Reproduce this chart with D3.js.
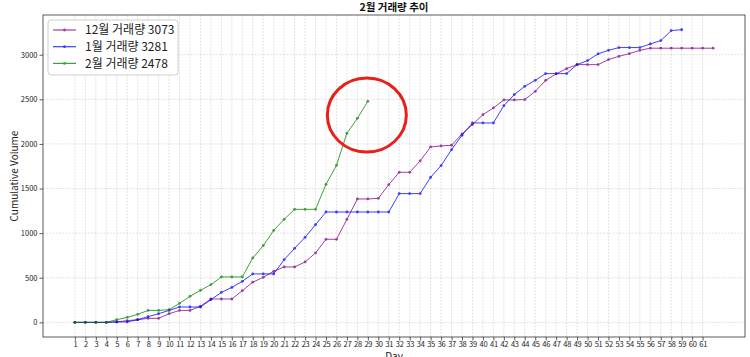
<!DOCTYPE html>
<html>
<head>
<meta charset="utf-8">
<script src="https://cdn.jsdelivr.net/npm/d3@7"></script>
<style>
  body { margin: 0; background: #fff; }
  text { font-family: "Noto Sans CJK KR", "Noto Sans", sans-serif; }
</style>
</head>
<body>
<div id="chart"></div>
<script>
// Cumulative volume per day (index 0 = day 1)
var decVolume = [0, 0, 0, 0, 5, 19, 30, 45, 45, 97, 134, 134, 180, 262, 262, 262, 355, 450, 505, 572,
  621, 621, 677, 778, 931, 931, 1155, 1383, 1383, 1390, 1544, 1682, 1682, 1810, 1966, 1978, 1985, 2112, 2216, 2328,
  2403, 2493, 2493, 2497, 2590, 2713, 2785, 2844, 2889, 2889, 2889, 2945, 2982, 3012, 3049, 3073, 3073, 3073, 3073, 3073,
  3073, 3073];
var janVolume = [0, 0, 0, 0, 5, 5, 30, 64, 97, 134, 172, 172, 172, 254, 336, 392, 460, 543, 543, 543,
  703, 830, 953, 1095, 1237, 1237, 1237, 1237, 1237, 1237, 1237, 1443, 1443, 1443, 1626, 1757, 1936, 2097, 2235, 2235,
  2235, 2429, 2553, 2646, 2713, 2788, 2788, 2788, 2889, 2934, 3009, 3049, 3080, 3080, 3080, 3121, 3158, 3270, 3281];
var febVolume = [0, 0, 0, 0, 30, 56, 90, 134, 134, 142, 213, 292, 359, 423, 509, 509, 509, 722, 860, 1031,
  1155, 1267, 1267, 1267, 1547, 1760, 2119, 2287, 2478];

var seriesNames = ["12월 거래량", "1월 거래량", "2월 거래량"];
var seriesColors = ["purple", "blue", "green"];
var xTicks = d3.range(1, 62);
var yTicks = [0, 500, 1000, 1500, 2000, 2500, 3000];
// red annotation circle (day, volume)
var highlight = [29, 2323];

var svgWidth = 750;
var svgHeight = 357;
var margin = { top: 15, right: 5, bottom: 20, left: 43 };
var width = svgWidth - margin.left - margin.right;
var height = svgHeight - margin.top - margin.bottom;

var svg = d3.select("#chart")
  .append("svg")
  .attr("width", svgWidth)
  .attr("height", svgHeight);

var chartGroup = svg.append("g")
  .attr("transform", `translate(${margin.left}, ${margin.top})`);

var allSeries = [decVolume, janVolume, febVolume];
var maxDay = d3.max(allSeries, function(s) { return s.length; });
var maxVol = d3.max(allSeries, function(s) { return d3.max(s); });
var xPad = (maxDay - 1) * 0.05;
var yPad = maxVol * 0.05;

var xScale = d3.scaleLinear()
  .domain([1 - xPad, maxDay + xPad])
  .range([0, width]);
var yScale = d3.scaleLinear()
  .domain([-yPad, maxVol + yPad])
  .range([height, 0]);

// Grid
chartGroup.append("g")
  .selectAll("line")
  .data(xTicks)
  .enter()
  .append("line")
  .attr("x1", function(d) { return xScale(d); })
  .attr("x2", function(d) { return xScale(d); })
  .attr("y1", 0)
  .attr("y2", height)
  .attr("stroke", "#b0b0b0")
  .attr("stroke-opacity", 0.5)
  .attr("stroke-width", 0.7)
  .attr("stroke-dasharray", "2,1.2");
chartGroup.append("g")
  .selectAll("line")
  .data(yTicks)
  .enter()
  .append("line")
  .attr("x1", 0)
  .attr("x2", width)
  .attr("y1", function(d) { return yScale(d); })
  .attr("y2", function(d) { return yScale(d); })
  .attr("stroke", "#b0b0b0")
  .attr("stroke-opacity", 0.5)
  .attr("stroke-width", 0.7)
  .attr("stroke-dasharray", "2,1.2");

// Axes
var bottomAxis = d3.axisBottom(xScale).tickValues(xTicks).tickSizeInner(3.5).tickSizeOuter(0).tickPadding(1.5);
var leftAxis = d3.axisLeft(yScale).tickValues(yTicks).tickFormat(d3.format("d"))
  .tickSizeInner(3.5).tickSizeOuter(0).tickPadding(2);

var xAxisG = chartGroup.append("g")
  .attr("transform", `translate(0, ${height})`)
  .call(bottomAxis);
var yAxisG = chartGroup.append("g")
  .call(leftAxis);
[xAxisG, yAxisG].forEach(function(g) {
  g.select(".domain").remove();
  g.selectAll(".tick line").attr("stroke", "#333").attr("stroke-width", 0.8);
  g.selectAll(".tick text")
    .attr("fill", "#222")
    .style("font-size", "7.5px")
    .style("font-family", "'Noto Sans CJK KR', sans-serif");
});
xAxisG.selectAll(".tick text").style("letter-spacing", "-0.3px");

// Frame
chartGroup.append("rect")
  .attr("width", width)
  .attr("height", height)
  .attr("fill", "none")
  .attr("stroke", "#333")
  .attr("stroke-width", 0.8);

// Lines
var line = d3.line()
  .x(function(d, i) { return xScale(i + 1); })
  .y(function(d) { return yScale(d); });

allSeries.forEach(function(values, k) {
  var g = chartGroup.append("g")
    .attr("opacity", 0.75);
  g.append("path")
    .datum(values)
    .attr("d", line)
    .attr("fill", "none")
    .attr("stroke", seriesColors[k])
    .attr("stroke-width", 1);
  g.selectAll("circle")
    .data(values)
    .enter()
    .append("circle")
    .attr("cx", function(d, i) { return xScale(i + 1); })
    .attr("cy", function(d) { return yScale(d); })
    .attr("r", 1.4)
    .attr("fill", seriesColors[k]);
});

// Red circle annotation
chartGroup.append("ellipse")
  .attr("cx", xScale(highlight[0]) - 1)
  .attr("cy", yScale(highlight[1]))
  .attr("rx", 39.5)
  .attr("ry", 37)
  .attr("fill", "none")
  .attr("stroke", "#e8201c")
  .attr("stroke-width", 3);

// Legend
var legend = chartGroup.append("g")
  .attr("transform", "translate(5, 5)");
legend.append("rect")
  .attr("width", 130)
  .attr("height", 55)
  .attr("rx", 3)
  .attr("fill", "#fff")
  .attr("fill-opacity", 0.85)
  .attr("stroke", "#d0d0d0")
  .attr("stroke-width", 1);
seriesNames.forEach(function(name, k) {
  var yy = 10 + k * 16.7;
  var row = legend.append("g").attr("opacity", 0.75);
  row.append("line")
    .attr("x1", 5)
    .attr("x2", 28)
    .attr("y1", yy)
    .attr("y2", yy)
    .attr("stroke", seriesColors[k])
    .attr("stroke-width", 1.2);
  row.append("circle")
    .attr("cx", 16.5)
    .attr("cy", yy)
    .attr("r", 1.4)
    .attr("fill", seriesColors[k]);
  legend.append("text")
    .attr("x", 37)
    .attr("y", yy)
    .attr("dy", "0.35em")
    .style("font-size", "12px")
    .attr("fill", "#222")
    .text(name + " " + d3.max(allSeries[k]));
});

// Title and axis labels
svg.append("text")
  .attr("x", margin.left + width / 2)
  .attr("y", 11)
  .attr("text-anchor", "middle")
  .style("font-size", "10.5px")
  .style("font-weight", "bold")
  .attr("fill", "#111")
  .text("2월 거래량 추이");

svg.append("text")
  .attr("transform", `translate(14, ${margin.top + height / 2}) rotate(-90)`)
  .attr("text-anchor", "middle")
  .attr("dy", "0.35em")
  .style("font-size", "10px")
  .attr("fill", "#222")
  .text("Cumulative Volume");

svg.append("text")
  .attr("x", margin.left + width / 2)
  .attr("y", 360)
  .attr("text-anchor", "middle")
  .style("font-size", "10px")
  .attr("fill", "#222")
  .text("Day");
</script>
</body>
</html>
